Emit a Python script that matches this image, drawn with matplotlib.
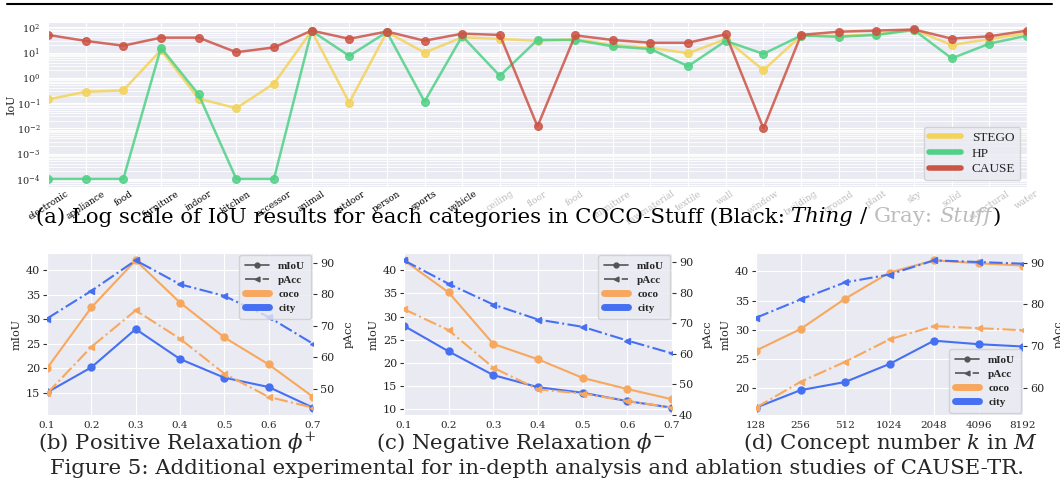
import matplotlib.pyplot as plt
import seaborn as sns
from matplotlib.lines import Line2D

sns.set_style('darkgrid')
plt.rcParams['font.family'] = ['DejaVu Serif']
plt.rcParams['mathtext.fontset'] = 'dejavuserif'

# IoU per COCO-Stuff category (thing categories first, then stuff)
thing_cats = ['electronic', 'appliance', 'food', 'furniture', 'indoor', 'kitchen',
              'accessor', 'animal', 'outdoor', 'person', 'sports', 'vehicle']
stuff_cats = ['ceiling', 'floor', 'food', 'furniture', 'rawmaterial', 'textile', 'wall',
              'window', 'building', 'ground', 'plant', 'sky', 'solid', 'structural', 'water']

stego = [0.14, 0.28, 0.32, 12.6, 0.15, 0.063, 0.59, 72, 0.105, 65, 10, 40,
         35, 29, 34, 20, 15.5, 9.4, 34, 2.0, 47, 45, 53, 80, 20, 34, 58]
hp = [1e-4, 1e-4, 1e-4, 15.6, 0.22, 1e-4, 1e-4, 72, 7.4, 65, 0.115, 45,
      1.2, 32, 31.5, 17.7, 13.8, 2.9, 29, 8.9, 47, 42, 50, 78, 5.9, 22.5, 47]
cause = [50, 29, 18.7, 39, 39, 10.3, 16, 74, 35, 68, 29.5, 56,
         50, 0.012, 48, 31.5, 24.5, 24.5, 53, 0.01, 50, 67, 74, 82, 35.5, 44, 74]

# ablations: mIoU (left axis) and pAcc (right axis)
phi = [0.1, 0.2, 0.3, 0.4, 0.5, 0.6, 0.7]
pos_coco_miou = [20.0, 32.4, 42.0, 33.4, 26.3, 20.8, 14.2]
pos_city_miou = [15.1, 20.2, 28.0, 21.9, 18.1, 16.2, 12.0]
pos_coco_pacc = [48.5, 63.3, 74.9, 65.9, 54.8, 47.4, 44.0]
pos_city_pacc = [72.3, 81.1, 90.8, 83.2, 79.5, 72.8, 64.3]

neg_coco_miou = [42.1, 35.2, 24.1, 20.8, 16.8, 14.4, 12.2]
neg_city_miou = [28.0, 22.5, 17.4, 14.8, 13.6, 11.8, 10.4]
neg_coco_pacc = [74.7, 67.8, 55.5, 48.4, 47.0, 44.6, 42.4]
neg_city_pacc = [90.7, 83.0, 76.2, 71.3, 68.9, 64.4, 60.2]

k_labels = ['128', '256', '512', '1024', '2048', '4096', '8192']
k_coco_miou = [26.4, 30.1, 35.3, 39.8, 41.9, 41.4, 41.0]
k_city_miou = [16.6, 19.6, 21.0, 24.1, 28.1, 27.5, 27.1]
k_coco_pacc = [55.2, 61.4, 66.2, 71.6, 74.8, 74.3, 73.8]
k_city_pacc = [76.8, 81.2, 85.3, 87.2, 90.6, 90.2, 89.8]

c_stego = '#F3D35A'
c_hp = '#4FD186'
c_cause = '#CC5445'
c_coco = '#F7A85E'
c_city = '#4670F2'
c_gray = '#BDBDBD'
LEG = 'Liberation Serif'

W, H = 1060, 492
fig = plt.figure(figsize=(W / 100, H / 100), dpi=100)


def px_axes(x0, y0, x1, y1):
    return fig.add_axes([x0 / W, 1 - y1 / H, (x1 - x0) / W, (y1 - y0) / H])


# ---- (a) log scale IoU ----
ax = px_axes(48, 22, 1027, 187)
cats = thing_cats + stuff_cats
x = list(range(len(cats)))
for vals, col, name in [(stego, c_stego, 'STEGO'), (hp, c_hp, 'HP'), (cause, c_cause, 'CAUSE')]:
    ax.plot(x, vals, color=col, lw=1.8, marker='o', ms=5.5, alpha=0.85, label=name)
ax.set_yscale('log')
ax.set_ylim(10 ** -4.32, 10 ** 2.21)
ax.set_xlim(0, len(cats) - 1)
ax.set_xticks(x)
ax.set_xticklabels(cats, rotation=33, fontsize=6.5)
for i, lab in enumerate(ax.get_xticklabels()):
    lab.set_color('black' if i < len(thing_cats) else c_gray)
ax.set_yticks([10.0 ** e for e in range(-4, 3)])
ax.tick_params(axis='y', labelsize=7, pad=2)
ax.tick_params(axis='x', pad=-2)
ax.grid(which='minor', axis='y', color='white', lw=0.6)
ax.set_ylabel('IoU', fontsize=8)
ax.yaxis.set_label_coords(-0.032, 0.5)
leg = ax.legend(loc='lower right', handlelength=2.4, borderpad=0.4, labelspacing=0.25,
                prop={'family': LEG, 'size': 9.5})
for h in leg.get_lines():
    h.set_linewidth(4)
    h.set_marker('')
    h.set_alpha(1)


# ---- ablation panels ----
def ablation(ax, xs, coco_m, city_m, coco_p, city_p, loc):
    ax.plot(xs, coco_m, color=c_coco, lw=1.5, marker='o', ms=5)
    ax.plot(xs, city_m, color=c_city, lw=1.5, marker='o', ms=5)
    ax2 = ax.twinx()
    ax2.plot(xs, coco_p, color=c_coco, lw=1.5, ls='-.', marker='<', ms=4)
    ax2.plot(xs, city_p, color=c_city, lw=1.5, ls='-.', marker='<', ms=4)
    ax2.grid(False)
    ax.set_xlim(xs[0], xs[-1])
    ax.set_ylabel('mIoU', fontsize=8, labelpad=3)
    ax2.set_ylabel('pAcc', fontsize=8, labelpad=7)
    ax.tick_params(axis='y', left=True, length=3, color='#333333', labelsize=8, pad=2)
    ax2.tick_params(axis='y', right=True, length=3, color='#333333', labelsize=8, pad=2)
    ax.tick_params(axis='x', labelsize=7.5, pad=1)
    for s in ax2.spines.values():
        s.set_visible(False)
    handles = [Line2D([], [], color='#555555', lw=1.2, marker='o', ms=3.5),
               Line2D([], [], color='#555555', lw=1.2, ls='-.', marker='<', ms=3.5),
               Line2D([], [], color=c_coco, lw=5),
               Line2D([], [], color=c_city, lw=5)]
    ax2.legend(handles, ['mIoU', 'pAcc', 'coco', 'city'], loc=loc, borderaxespad=0.2,
               prop={'family': LEG, 'weight': 'bold', 'size': 8},
               handlelength=2.2, borderpad=0.5, labelspacing=0.4)
    return ax2


axb = px_axes(47, 253, 313, 415)
ablation(axb, phi, pos_coco_miou, pos_city_miou, pos_coco_pacc, pos_city_pacc, 'upper right')
axb.set_xticks(phi)

axc = px_axes(404, 253, 672, 415)
ablation(axc, phi, neg_coco_miou, neg_city_miou, neg_coco_pacc, neg_city_pacc, 'upper right')
axc.set_xticks(phi)

axd = px_axes(756, 253, 1023, 415)
kx = list(range(len(k_labels)))
ablation(axd, kx, k_coco_miou, k_city_miou, k_coco_pacc, k_city_pacc, 'lower right')
axd.set_xticks(kx)
axd.set_xticklabels(k_labels)

# ---- captions ----
r = fig.canvas.get_renderer()

# size the caption font so the figure caption spans the page width
fig5 = fig.text(537 / W, 1 - 469 / H,
                'Figure 5: Additional experimental for in-depth analysis and ablation studies of CAUSE-TR.',
                size=14, ha='center', va='center')
csize = 14 * 980 / fig5.get_window_extent(r).width
fig5.set_size(csize)


def caption(parts, xc, yc, size=csize):
    # lay out coloured / italic pieces side by side, centred on xc (pixels from the left)
    gap = 0.318 * size * 100 / 72
    texts, pos = [], 0
    for s, col, style in parts:
        if s == ' ':
            pos += gap
            continue
        t = fig.text(0, 1 - yc / H, s, color=col, style=style, size=size,
                     va='center', ha='left')
        texts.append((t, pos))
        pos += t.get_window_extent(r).width
    x0 = xc - pos / 2
    for t, p in texts:
        t.set_x((x0 + p) / W)


sp = (' ', None, None)
caption([('(a) Log scale of IoU results for each categories in COCO-Stuff (Black:', 'black', 'normal'),
         sp, ('Thing', 'black', 'italic'), sp, ('/', 'black', 'normal'), sp,
         ('Gray:', c_gray, 'normal'), sp, ('Stuff', c_gray, 'italic'), (')', 'black', 'normal')],
        518, 217)

fig.text(177 / W, 1 - 443 / H, r'(b) Positive Relaxation $\phi^{+}$', size=csize,
         ha='center', va='center')
fig.text(521 / W, 1 - 443 / H, r'(c) Negative Relaxation $\phi^{-}$', size=csize,
         ha='center', va='center')
fig.text(890 / W, 1 - 443 / H, r'(d) Concept number $k$ in $M$', size=csize,
         ha='center', va='center')

fig.add_artist(Line2D([7 / W, 1052 / W], [1 - 4 / H, 1 - 4 / H], color='black', lw=1.5,
                      transform=fig.transFigure))

fig.savefig('out.png', dpi=100)
